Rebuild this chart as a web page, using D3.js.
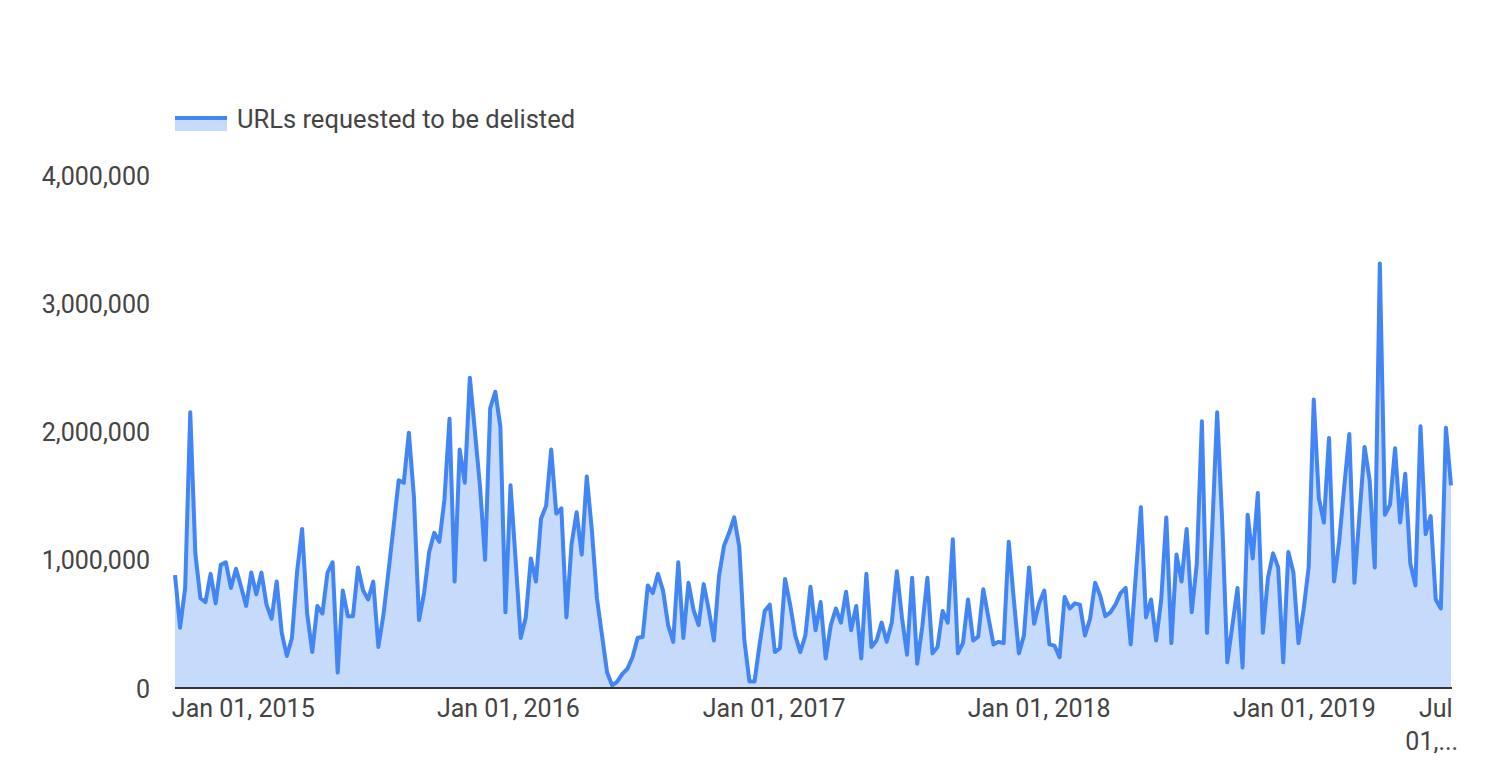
<!DOCTYPE html>
<html lang="en">
<head>
<meta charset="utf-8">
<title>URLs requested to be delisted</title>
<script src="https://cdnjs.cloudflare.com/ajax/libs/d3/7.8.5/d3.min.js"></script>
<style>
  body { margin: 0; background: #fff; }
  svg text { font-family: Roboto, "Noto Sans", sans-serif; fill: #444; }
</style>
</head>
<body>
<svg id="chart" width="1498" height="780"></svg>
<script>
// weekly series, first week starting Mon Sep 29, 2014
var firstWeek = "2014-09-29";
var seriesName = "URLs requested to be delisted";
var urls = [
  880000, 470000, 780000, 2150000, 1050000, 700000, 670000, 890000, 660000, 960000,
  980000, 780000, 930000, 790000, 640000, 900000, 730000, 900000, 650000, 540000,
  830000, 430000, 250000, 390000, 900000, 1240000, 580000, 280000, 640000, 580000,
  900000, 980000,
  120000, 760000, 560000, 560000, 940000, 760000, 690000, 830000, 320000, 570000,
  910000, 1260000, 1620000, 1600000, 1990000, 1490000, 530000, 740000, 1060000, 1210000,
  1140000, 1470000, 2100000, 830000, 1860000, 1600000, 2420000, 2000000, 1570000, 1000000,
  2180000, 2310000,
  2040000, 590000, 1580000, 1000000, 390000, 550000, 1010000, 830000, 1320000, 1420000,
  1860000, 1360000, 1400000, 550000, 1120000, 1370000, 1040000, 1650000, 1230000, 700000,
  410000, 120000, 20000, 50000, 110000, 150000, 240000, 390000, 400000, 800000,
  740000,
  890000, 760000, 490000, 360000, 980000, 390000, 820000, 610000, 490000, 810000,
  610000, 370000, 870000, 1110000, 1210000, 1330000, 1100000, 370000, 50000, 50000,
  340000, 600000, 650000, 280000, 310000, 850000, 650000, 410000, 280000, 410000,
  790000, 450000,
  670000, 230000, 490000, 620000, 510000, 750000, 450000, 640000, 230000, 890000,
  320000, 370000, 510000, 360000, 510000, 910000, 550000, 260000, 860000, 190000,
  480000, 860000, 270000, 320000, 600000, 510000, 1160000, 270000, 350000, 690000,
  370000,
  400000, 770000, 550000, 340000, 360000, 350000, 1140000, 690000, 270000, 410000,
  940000, 500000, 660000, 760000, 340000, 330000, 240000, 710000, 620000, 660000,
  650000, 410000, 540000, 820000, 720000, 560000, 590000, 650000, 740000, 780000,
  340000,
  880000, 1410000, 550000, 690000, 370000, 690000, 1330000, 350000, 1040000, 830000,
  1240000, 590000, 970000, 2080000, 430000, 1210000, 2150000, 1290000, 200000, 490000,
  780000, 160000, 1350000, 1010000, 1520000, 430000, 860000, 1050000, 940000, 200000,
  1060000, 900000,
  350000, 610000, 940000, 2250000, 1480000, 1290000, 1950000, 830000, 1140000, 1570000,
  1980000, 820000, 1350000, 1880000, 1620000, 940000, 3310000, 1350000, 1430000, 1870000,
  1290000, 1670000, 970000, 800000, 2040000, 1200000, 1340000, 690000, 620000, 2030000,
  1580000
];
var yTicks = [0, 1000000, 2000000, 3000000, 4000000];
var xTickDates = ["2015-01-01", "2016-01-01", "2017-01-01", "2018-01-01", "2019-01-01", "2019-07-01"];
var xTickLabels = ["Jan 01, 2015", "Jan 01, 2016", "Jan 01, 2017", "Jan 01, 2018", "Jan 01, 2019", "Jul\n01,..."];

var parse = d3.utcParse("%Y-%m-%d");
var start = parse(firstWeek);
var data = urls.map(function(v, i) {
  return { date: d3.utcDay.offset(start, i * 7), value: v };
});

var plotL = 175, plotR = 1451, plotT = 175, plotB = 688;
var fs = 25;
var svg = d3.select("#chart");

var x = d3.scaleUtc()
  .domain([data[0].date, data[data.length - 1].date])
  .range([plotL, plotR]);
var y = d3.scaleLinear().domain([0, 4000000]).range([plotB, plotT]);

var area = d3.area()
  .x(function(d) { return x(d.date); })
  .y0(y(0))
  .y1(function(d) { return y(d.value); });
var line = d3.line()
  .x(function(d) { return x(d.date); })
  .y(function(d) { return y(d.value); });

svg.append("path").datum(data)
  .attr("d", area)
  .attr("fill", "#c6dafc");
svg.append("path").datum(data)
  .attr("d", line)
  .attr("fill", "none")
  .attr("stroke", "#4285f4")
  .attr("stroke-width", 4)
  .attr("stroke-linejoin", "round");

// y axis labels only
var yAxis = svg.append("g")
  .attr("transform", "translate(" + (plotL - 25) + ",0)")
  .call(d3.axisLeft(y).tickValues(yTicks).tickFormat(d3.format(",")).tickSize(0).tickPadding(0));
yAxis.select(".domain").remove();
yAxis.selectAll("text")
  .attr("font-size", fs)
  .attr("dy", "0.36em")
  .style("font-family", "Roboto, sans-serif")
  .attr("fill", "#444");

// x axis baseline
svg.append("line")
  .attr("x1", plotL).attr("x2", plotR + 1)
  .attr("y1", plotB).attr("y2", plotB)
  .attr("stroke", "#333").attr("stroke-width", 2);

var xt = svg.append("g").selectAll("text")
  .data(xTickDates)
  .enter().append("text")
  .attr("text-anchor", "middle")
  .attr("font-size", fs)
  .attr("transform", function(d) { return "translate(" + x(parse(d)) + ",717)"; });
xt.each(function(d, i) {
  var lines = xTickLabels[i].split("\n");
  var t = d3.select(this);
  lines.forEach(function(s, j) {
    t.append("tspan").attr("x", j ? -4 : 0).attr("y", j * 33).text(s);
  });
});

// legend
var lg = svg.append("g").attr("transform", "translate(175,116)");
lg.append("rect").attr("width", 52).attr("height", 15).attr("fill", "#c6dafc");
lg.append("rect").attr("width", 52).attr("height", 4).attr("fill", "#4285f4");
lg.append("text").attr("x", 62).attr("y", 12).attr("font-size", 25.5).attr("fill", "#333").text(seriesName);
</script>
</body>
</html>
